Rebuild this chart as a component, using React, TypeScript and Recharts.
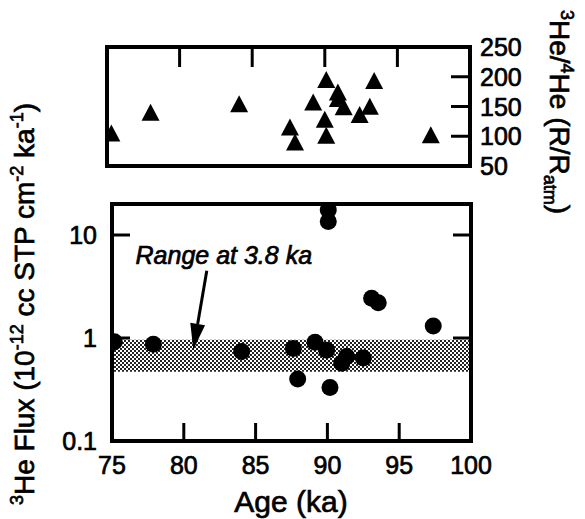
import React from "react"
import { ScatterChart, Scatter, XAxis, YAxis, ReferenceArea, ReferenceLine } from "recharts"

// upper panel: 3He/4He ratio (R/Ratm)
const ratioAge = [75.3, 78.0, 84.1, 87.6, 87.95, 89.2, 90.1, 90.0, 90.1, 90.9, 90.9, 91.3, 92.4, 93.1, 93.4, 97.3]
const ratioValue = [103, 138, 152, 113, 88, 155, 193, 126, 99, 172, 161, 147, 134, 148, 191, 100]

// lower panel: 3He flux
const fluxAge = [75.16, 77.88, 84.03, 87.63, 87.93, 89.14, 89.95, 90.18, 91.0, 91.34, 92.5, 93.08, 93.54, 97.37, 90.06, 90.06]
const fluxValue = [0.92, 0.87, 0.74, 0.79, 0.4, 0.91, 0.76, 0.33, 0.57, 0.66, 0.64, 2.43, 2.2, 1.31, 13.5, 17.5]

// range at 3.8 ka (shaded band)
const bandLow = 0.47
const bandHigh = 0.96

// arrow from the label down to the band
const arrowFrom = { age: 81.6, flux: 4.5 }
const arrowTo = { age: 80.66, flux: 0.77 }

const ageTicks = [75, 80, 85, 90, 95, 100]
const innerAgeTicks = [80, 85, 90, 95]
const ratioTicks = [50, 100, 150, 200, 250]
const innerRatioTicks = [100, 150, 200]
const fluxTicks = [0.1, 1, 10]
const innerFluxTicks = [1, 10]

const ratioData = ratioAge.map((age, i) => ({ age, value: ratioValue[i] }))
const fluxData = fluxAge.map((age, i) => ({ age, value: fluxValue[i] }))

const W = 585
const H = 519
const FONT = '"Liberation Sans", Arial, Helvetica, sans-serif'
const ink = { fill: "#000", stroke: "#000", strokeWidth: 0.7, fontFamily: FONT }

const Triangle = (p: any) => (
  <polygon points={`${p.cx},${p.cy - 10} ${p.cx - 9},${p.cy + 7} ${p.cx + 9},${p.cy + 7}`} fill="#000" />
)
const Dot = (p: any) => <circle cx={p.cx} cy={p.cy} r={8.5} fill="#000" />

const DownTick = (p: any) => <line x1={p.x} x2={p.x} y1={p.y} y2={p.y + 20} stroke="#000" strokeWidth={3} />

const RatioTick = (p: any) => (
  <g>
    {innerRatioTicks.includes(p.payload.value) && (
      <line x1={p.x} x2={p.x - 19} y1={p.y} y2={p.y} stroke="#000" strokeWidth={3} />
    )}
    <text x={p.x + 10} y={p.y} dy="0.36em" textAnchor="start" fontSize={25} {...ink}>
      {p.payload.value}
    </text>
  </g>
)

const AgeTick = (p: any) => (
  <g>
    {innerAgeTicks.includes(p.payload.value) && (
      <line x1={p.x} x2={p.x} y1={p.y} y2={p.y - 18} stroke="#000" strokeWidth={3} />
    )}
    <text x={p.x} y={p.y + 33} textAnchor="middle" fontSize={25} {...ink}>
      {p.payload.value}
    </text>
  </g>
)

const FluxTick = (p: any) => (
  <g>
    {innerFluxTicks.includes(p.payload.value) && (
      <line x1={p.x} x2={p.x + 18} y1={p.y} y2={p.y} stroke="#000" strokeWidth={3} />
    )}
    <text x={p.x - 15} y={p.y} dy="0.36em" textAnchor="end" fontSize={25} {...ink}>
      {p.payload.value}
    </text>
  </g>
)

const RightInTick = (p: any) => <line x1={p.x} x2={p.x - 18} y1={p.y} y2={p.y} stroke="#000" strokeWidth={3} />

const Arrow = (p: any) => {
  const { x1, y1, x2, y2 } = p
  const dx = x2 - x1
  const dy = y2 - y1
  const len = Math.sqrt(dx * dx + dy * dy)
  const ux = dx / len
  const uy = dy / len
  const bx = x2 - ux * 26
  const by = y2 - uy * 26
  return (
    <g>
      <line x1={x1} y1={y1} x2={bx} y2={by} stroke="#000" strokeWidth={3} />
      <polygon points={`${x2},${y2} ${bx - uy * 7.5},${by + ux * 7.5} ${bx + uy * 7.5},${by - ux * 7.5}`} fill="#000" />
      <text x={x1 + 17} y={y1 - 7} textAnchor="middle" fontSize={25} fontStyle="italic" {...ink}>
        Range at 3.8 ka
      </text>
    </g>
  )
}

const LeftTitle = () => (
  <text transform="translate(34,304) rotate(-90)" textAnchor="middle" fontSize={28} {...ink}>
    <tspan fontSize={18} dy={-11}>3</tspan>
    <tspan dy={11}>He Flux (10</tspan>
    <tspan fontSize={18} dy={-11}>-12</tspan>
    <tspan dy={11}> cc STP cm</tspan>
    <tspan fontSize={18} dy={-11}>-2</tspan>
    <tspan dy={11}> ka</tspan>
    <tspan fontSize={18} dy={-11}>-1</tspan>
    <tspan dy={11}>)</tspan>
  </text>
)

const RightTitle = () => (
  <text transform="translate(550,112) rotate(90)" textAnchor="middle" fontSize={28} {...ink}>
    <tspan fontSize={18} dy={-11}>3</tspan>
    <tspan dy={11}>He/</tspan>
    <tspan fontSize={18} dy={-11}>4</tspan>
    <tspan dy={11}>He (R/R</tspan>
    <tspan fontSize={18} dy={6}>atm</tspan>
    <tspan dy={-6}>)</tspan>
  </text>
)

const AgeTitle = () => (
  <text x={291} y={512} textAnchor="middle" fontSize={30} {...ink}>
    Age (ka)
  </text>
)

// axes are 1px thick so Recharts still draws them; the plot edges stay where the margins put them
const axisBase = { tickSize: 0, tickMargin: 0, axisLine: false, tickLine: false, interval: 0 as const, allowDataOverflow: true }

export default function App() {
  return (
    <div style={{ position: "absolute", left: 0, top: 0, width: W, height: H, background: "#fff" }}>
      <div style={{ position: "absolute", left: 0, top: 0 }}>
        <ScatterChart width={W} height={H} margin={{ top: 204, bottom: H - 441 - 1, left: 111, right: W - 471 - 1 }}>
          <defs>
            <pattern id="stipple" width={4} height={4} patternUnits="userSpaceOnUse">
              <rect x={0} y={0} width={2} height={2} fill="#222" />
              <rect x={2} y={2} width={2} height={2} fill="#222" />
            </pattern>
          </defs>
          <XAxis xAxisId="b" dataKey="age" type="number" domain={[75, 100]} ticks={ageTicks} height={1} tick={AgeTick}
            label={{ content: AgeTitle }} {...axisBase} />
          <YAxis yAxisId="l" dataKey="value" type="number" scale="log" domain={[0.1, 20]} ticks={fluxTicks} width={1}
            tick={FluxTick} label={{ content: LeftTitle }} {...axisBase} />
          <YAxis yAxisId="r" type="number" scale="log" domain={[0.1, 20]} orientation="right" ticks={innerFluxTicks}
            width={1} tick={RightInTick} {...axisBase} />
          <ReferenceArea xAxisId="b" yAxisId="l" x1={75} x2={100} y1={bandLow} y2={bandHigh} fill="url(#stipple)"
            fillOpacity={1} stroke="none" ifOverflow="visible" />
          <ReferenceArea xAxisId="b" yAxisId="l" x1={75} x2={100} y1={0.1} y2={20} fill="none" stroke="#000"
            strokeWidth={4} ifOverflow="visible" />
          <ReferenceLine xAxisId="b" yAxisId="l" ifOverflow="visible"
            segment={[{ x: arrowFrom.age, y: arrowFrom.flux }, { x: arrowTo.age, y: arrowTo.flux }]} shape={Arrow} />
          <Scatter xAxisId="b" yAxisId="l" data={fluxData} dataKey="value" shape={Dot} isAnimationActive={false} />
        </ScatterChart>
      </div>
      <div style={{ position: "absolute", left: 0, top: 0 }}>
        <ScatterChart width={W} height={H} margin={{ top: 46, bottom: H - 166, left: 107, right: W - 470 - 1 }}>
          <XAxis xAxisId="t" dataKey="age" type="number" domain={[75, 100]} orientation="top" ticks={innerAgeTicks}
            height={1} tick={DownTick} {...axisBase} />
          <YAxis yAxisId="r" dataKey="value" type="number" domain={[50, 250]} orientation="right" ticks={ratioTicks}
            width={1} tick={RatioTick} label={{ content: RightTitle }} {...axisBase} />
          <ReferenceArea xAxisId="t" yAxisId="r" x1={75} x2={100} y1={50} y2={250} fill="none" stroke="#000"
            strokeWidth={4} ifOverflow="visible" />
          <Scatter xAxisId="t" yAxisId="r" data={ratioData} dataKey="value" shape={Triangle} isAnimationActive={false} />
        </ScatterChart>
      </div>
    </div>
  )
}
